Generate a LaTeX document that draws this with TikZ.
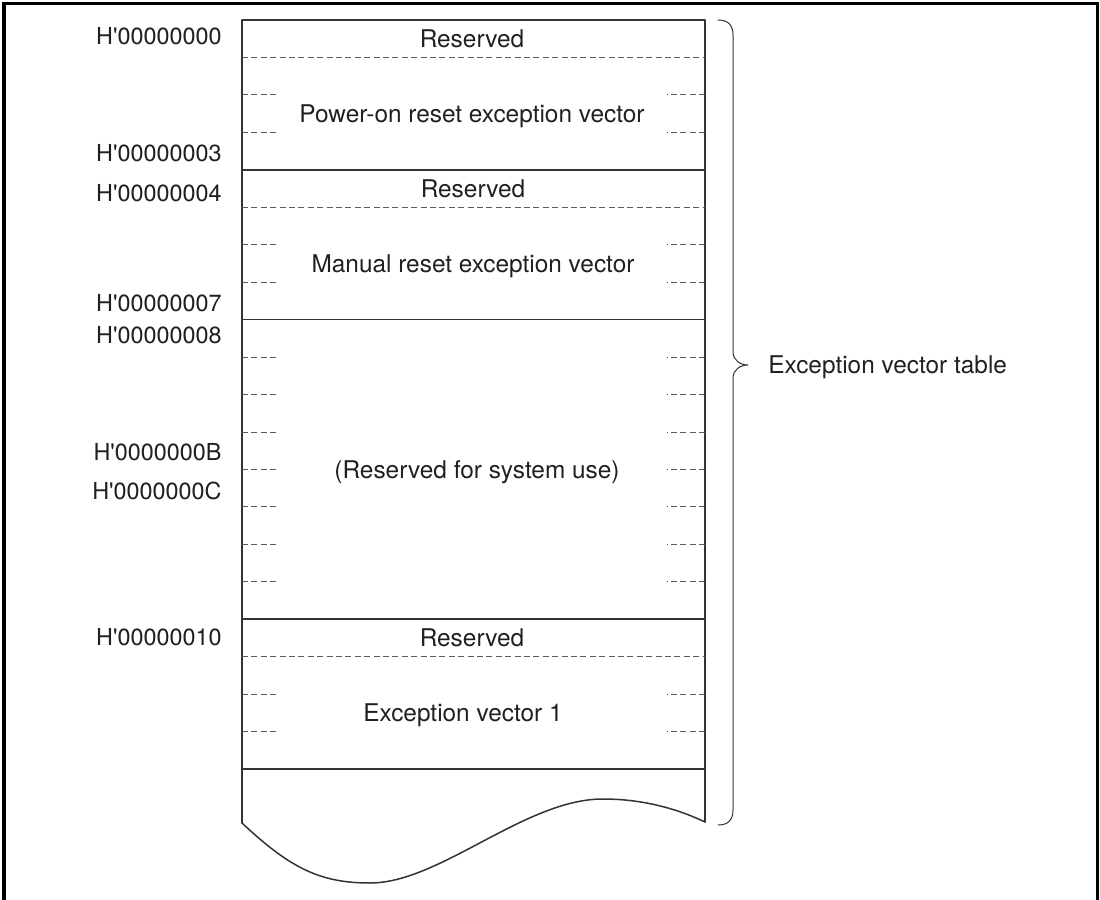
\documentclass[tikz,border=0pt]{standalone}
\usepackage{fontspec}
\setmainfont{TeX Gyre Heros}
\usepackage{xcolor}
\usepackage{tikz}
\usetikzlibrary{calc}
\definecolor{ink}{HTML}{231F20}
\definecolor{rule}{HTML}{333333}
\definecolor{dashc}{HTML}{5A5A5A}
\newcommand{\hq}{H\textquotesingle}
\tikzset{
  outerbox/.style={draw=black, line width=1.5pt},
  solidline/.style={draw=rule, line width=0.75pt, line cap=round, line join=round},
  dashline/.style={draw=dashc, line width=0.45pt, dash pattern=on 3pt off 1.7pt},
  bracestyle/.style={draw=rule, line width=0.5pt, line cap=round, line join=round},
  lab/.style={text=ink, font=\fontsize{12.2}{14}\selectfont, inner sep=0pt},
  addr/.style={lab, font=\fontsize{11.7}{14}\selectfont, anchor=base east},
}
\begin{document}
\begin{tikzpicture}[x=0.5pt, y=-0.5pt]
  \useasboundingbox (0,0) rectangle (1100,900);
  \def\xL{242}
  \def\xR{705}
  \def\yT{20}
  \def\h{37.45}
  % page frame, open at the bottom
  \draw[outerbox] (4,910) -- (4,3) -- (1097,3) -- (1097,910);
  % table outline with torn bottom
  \coordinate (bl) at (\xL,823);
  \coordinate (br) at (\xR,822);
  \draw[solidline] (bl) -- (\xL,\yT) -- (\xR,\yT) -- (br);
  \draw[solidline] (bl) .. controls (290,868) and (320,883) .. (370,883)
    .. controls (440,883) and (525,799) .. (603,799)
    .. controls (645,799) and (680,810) .. (br);
  \foreach \i in {4,8,16,20}
    \draw[solidline] (\xL,{\yT+\h*\i}) -- (\xR,{\yT+\h*\i});
  \foreach \i in {1,5,17}
    \draw[dashline] (\xL,{\yT+\h*\i}) -- (\xR,{\yT+\h*\i});
  \foreach \i in {2,3,6,7,9,10,11,12,13,14,15,18,19} {
    \draw[dashline] (\xL,{\yT+\h*\i}) -- ++(37,0);
    \draw[dashline] (\xR,{\yT+\h*\i}) -- ++(-38,0);
  }
  % cell texts
  \node[lab, anchor=base] (res0) at (472,47) {Reserved};
  \node[lab, anchor=base] (por) at (472,122) {Power-on reset exception vector};
  \node[lab, anchor=base] (res1) at (473,197) {Reserved};
  \node[lab, anchor=base] (man) at (473,272) {Manual reset exception vector};
  \node[lab, anchor=base] (sys) at (477,478) {(Reserved for system use)};
  \node[lab, anchor=base] (res2) at (472,646) {Reserved};
  \node[lab, anchor=base] (ev1) at (463,721) {Exception vector 1};
  % addresses
  \node[addr] (a00) at (222,44) {\hq00000000};
  \node[addr] (a03) at (222,161) {\hq00000003};
  \node[addr] (a04) at (222,201) {\hq00000004};
  \node[addr] (a07) at (222,311) {\hq00000007};
  \node[addr] (a08) at (222,343) {\hq00000008};
  \node[addr] (a0B) at (222,460) {\hq0000000B};
  \node[addr] (a0C) at (222,499) {\hq0000000C};
  \node[addr] (a10) at (222,645) {\hq00000010};
  % brace
  \coordinate (tip) at (748,365);
  \draw[bracestyle] (718,20) .. controls (728,20) and (733,25) .. (733,35)
    -- (733,352) .. controls (733,360) and (740,365) .. (tip)
    .. controls (740,365) and (733,370) .. (733,378)
    -- (733,810) .. controls (733,820) and (728,825) .. (718,825);
  \node[lab, anchor=base west] (evt) at ($(tip)+(20,8.5)$) {Exception vector table};
\end{tikzpicture}
\end{document}
